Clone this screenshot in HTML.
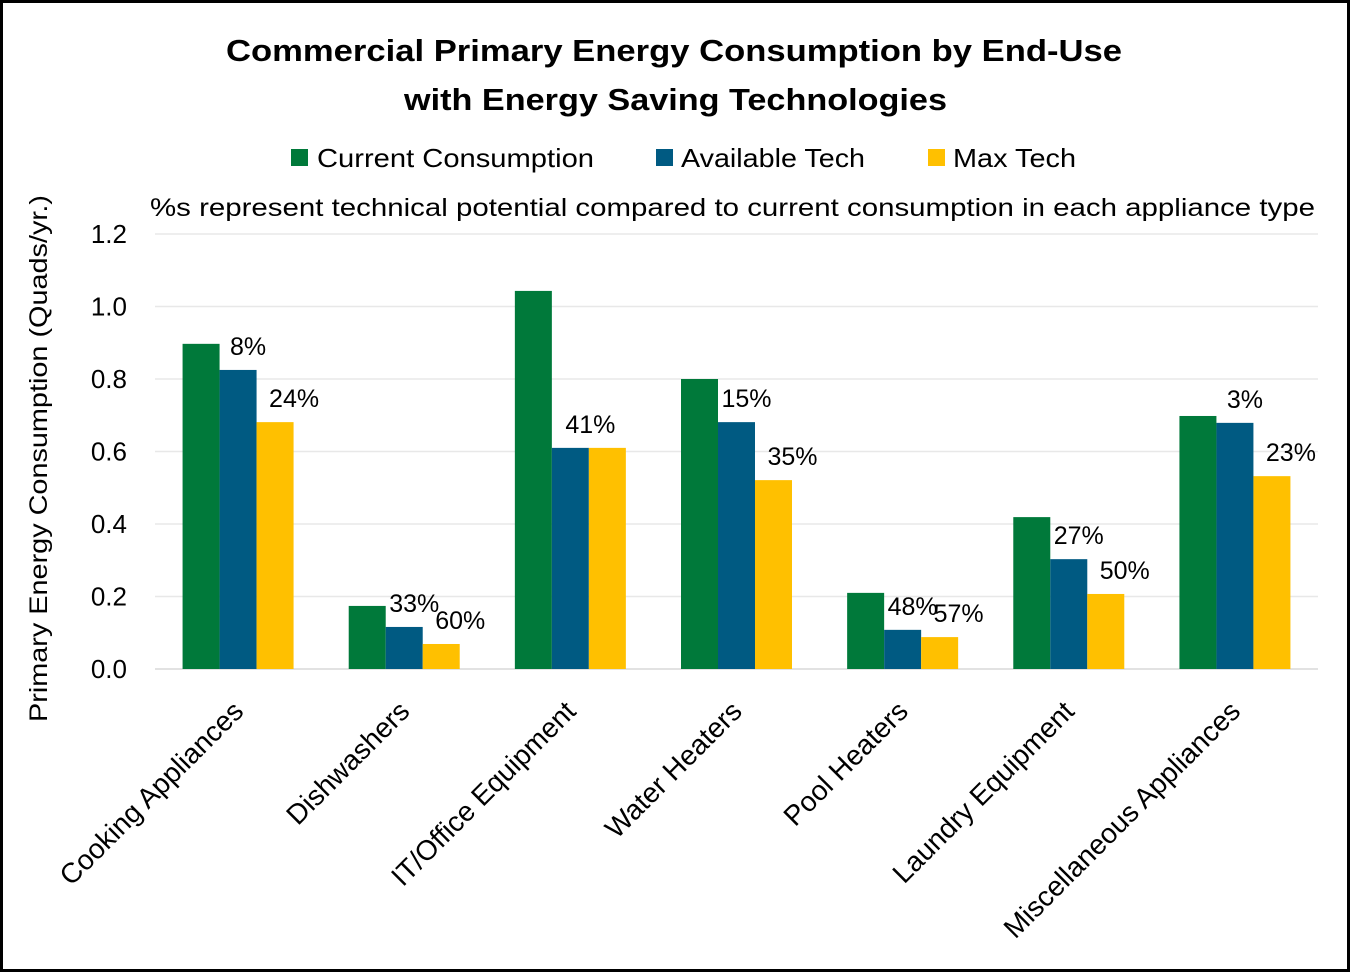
<!DOCTYPE html>
<html><head><meta charset="utf-8"><style>
html,body{margin:0;padding:0;background:#fff;}
svg{display:block;font-family:"Liberation Sans",Arial,sans-serif;}
</style></head><body>
<svg id="chart" width="1350" height="972" viewBox="0 0 1350 972">
<rect x="1.5" y="1.5" width="1347" height="969" fill="#fff" stroke="#000" stroke-width="3"/>
<text x="226" y="61" textLength="896" lengthAdjust="spacingAndGlyphs" font-size="31" font-weight="bold">Commercial Primary Energy Consumption by End-Use</text>
<text x="404" y="110" textLength="543" lengthAdjust="spacingAndGlyphs" font-size="31" font-weight="bold">with Energy Saving Technologies</text>
<g font-size="26">
<g><rect x="291" y="149" width="17" height="17" fill="#00793A"/><text x="317" y="167" textLength="277" lengthAdjust="spacingAndGlyphs">Current Consumption</text></g>
<g><rect x="656" y="149" width="17" height="17" fill="#005A82"/><text x="681" y="167" textLength="184" lengthAdjust="spacingAndGlyphs">Available Tech</text></g>
<g><rect x="928" y="149" width="17" height="17" fill="#FFC000"/><text x="953" y="167" textLength="123" lengthAdjust="spacingAndGlyphs">Max Tech</text></g>
</g>
<text x="150" y="216" textLength="1165" lengthAdjust="spacingAndGlyphs" font-size="25">%s represent technical potential compared to current consumption in each appliance type</text>
<text transform="translate(47,722) rotate(-90)" textLength="527" lengthAdjust="spacingAndGlyphs" font-size="25">Primary Energy Consumption (Quads/yr.)</text>
<g id="grid"></g><g id="bars"></g><g id="labels"></g><g id="xlabels"></g>
</svg>
<script>
const categories = ["Cooking Appliances","Dishwashers","IT/Office Equipment","Water Heaters","Pool Heaters","Laundry Equipment","Miscellaneous Appliances"];
const currentValues = [0.897,0.174,1.043,0.800,0.210,0.419,0.698];
const availableValues = [0.825,0.116,0.610,0.681,0.108,0.303,0.679];
const maxValues = [0.681,0.069,0.610,0.521,0.088,0.207,0.532];
const availableLabels = ["8%","33%","41%","15%","48%","27%","3%"];
const maxLabels = ["24%","60%","","35%","57%","50%","23%"];
const yTicks = [0,0.2,0.4,0.6,0.8,1.0,1.2];
const yTickLabels = ["0.0","0.2","0.4","0.6","0.8","1.0","1.2"];

const NS="http://www.w3.org/2000/svg";
const x0=155,x1=1318,yBase=669,yTop=234,yMax=1.2;
const band=(x1-x0)/categories.length, bw=37;
function y(v){return yBase-(v/yMax)*(yBase-yTop);}
function xc(i){return x0+band*(i+0.5);}
function mk(tag,attrs,parent){const e=document.createElementNS(NS,tag);for(const k in attrs)e.setAttribute(k,attrs[k]);parent.appendChild(e);return e;}
const grid=document.getElementById('grid'),bars=document.getElementById('bars'),labels=document.getElementById('labels'),xl=document.getElementById('xlabels');
yTicks.forEach((t,i)=>{
  const l=mk('line',{x1:x0,x2:x1,y1:y(t),y2:y(t),stroke:i===0?'#d9d9d9':'#e8e8e8','stroke-width':1.5},grid);
  
  
  const tx=mk('text',{x:127,y:y(t)+9,'text-anchor':'end','font-size':26},grid);
  
  
  tx.textContent=yTickLabels[i];
});
const series=[[currentValues,'#00793A','bar-current'],[availableValues,'#005A82','bar-available'],[maxValues,'#FFC000','bar-max']];
categories.forEach((c,i)=>{
  series.forEach((s,j)=>{
    const bx=xc(i)-1.5*bw+j*bw, v=s[0][i];
    const r=mk('rect',{x:bx,y:y(v),width:bw,height:yBase-y(v),fill:s[1]},bars);
    
    
  });
  [[availableLabels,availableValues,1,maxLabels[i]?10:20],[maxLabels,maxValues,2,19]].forEach(a=>{
    if(!a[0][i])return;
    const cx=xc(i)-1.5*bw+a[2]*bw+bw/2+a[3];
    const t=mk('text',{x:cx,y:y(a[1][i])-15,'text-anchor':'middle','font-size':25},labels);
    
    
    t.textContent=a[0][i];
  });
  const t=mk('text',{transform:`translate(${xc(i)+7},${yBase+44}) rotate(-45)`,'text-anchor':'end','font-size':28},xl);
  
  
  t.textContent=c;
});
</script>
</body></html>
